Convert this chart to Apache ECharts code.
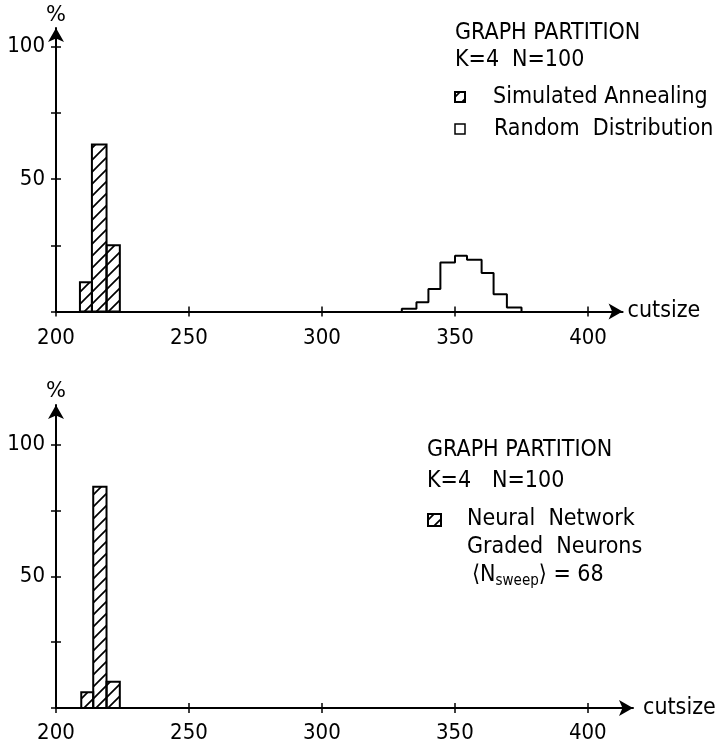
<!DOCTYPE html>
<html>
<head>
<meta charset="utf-8">
<script src="https://cdn.jsdelivr.net/npm/echarts@6/dist/echarts.min.js"></script>
<style>
	html, body { margin: 0; padding: 0; background: #fff; }
	#main { width: 717px; height: 744px; }
</style>
</head>
<body>
<div id="main"></div>
<script>
// top panel: simulated annealing bins (left edge, right edge, %)
const saStart = [209, 213.5, 219];
const saEnd = [213.5, 219, 224];
const saPct = [11, 63, 25];
// top panel: random distribution, bin edges and % per bin
const rdEdges = [330, 335.5, 340, 344.5, 350, 354.5, 360, 364.5, 369.5, 375];
const rdPct = [1, 3.5, 8.5, 18.5, 21, 19.5, 14.5, 6.5, 1.5];
// bottom panel: neural network bins
const nnStart = [209.5, 214, 219];
const nnEnd = [214, 219, 224];
const nnPct = [6, 84, 10];
// ticks
const xTicks = [200, 250, 300, 350, 400];
const yTicks = [0, 25, 50, 75, 100];
const yLabels = [50, 100];

const FONT = "'DejaVu Sans Condensed', 'Liberation Sans Narrow', 'DejaVu Sans'";

// hatch tile for the bars
function makeHatch() {
	let c = document.createElement('canvas');
	c.width = 12;
	c.height = 12;
	let ctx = c.getContext('2d');
	ctx.strokeStyle = '#000';
	ctx.lineWidth = 1.7;
	ctx.beginPath();
	ctx.moveTo(-1, 13); ctx.lineTo(13, -1);
	ctx.moveTo(-2, 2); ctx.lineTo(2, -2);
	ctx.moveTo(10, 14); ctx.lineTo(14, 10);
	ctx.stroke();
	return c;
}
const hatch = { image: makeHatch(), repeat: 'repeat' };

function binItem(params, api) {
	let p0 = api.coord([api.value(0), api.value(2)]);
	let p1 = api.coord([api.value(1), 0]);
	return {
		type: 'rect',
		shape: { x: p0[0], y: p0[1], width: p1[0] - p0[0], height: p1[1] - p0[1] },
		style: { fill: hatch, stroke: '#000', lineWidth: 2 }
	};
}

function stepPoints(edges, vals) {
	let pts = [[edges[0], 0]];
	vals.forEach(function(v, i) { pts.push([edges[i], v]); });
	pts.push([edges[edges.length - 1], 0]);
	return pts;
}

function mainX(grid, max, gap, margin) {
	return {
		type: 'value', gridIndex: grid, position: 'bottom', min: 200, max: max, interval: 50,
		name: 'cutsize', nameLocation: 'end', nameGap: gap,
		nameTextStyle: { color: '#000', fontSize: 23, fontFamily: FONT, verticalAlign: 'middle' },
		axisLine: { lineStyle: { color: '#000', width: 2 }, symbol: ['none', 'arrow'], symbolSize: [12, 14] },
		axisTick: { customValues: xTicks, length: 5, lineStyle: { color: '#000', width: 1.5 } },
		axisLabel: { customValues: xTicks, color: '#000', fontSize: 22, fontFamily: FONT, margin: margin },
		splitLine: { show: false }
	};
}
function innerX(grid, max) {
	return {
		type: 'value', gridIndex: grid, position: 'bottom', min: 200, max: max, interval: 50,
		axisLine: { show: false },
		axisTick: { inside: true, customValues: xTicks, length: 5, lineStyle: { color: '#000', width: 1.5 } },
		axisLabel: { show: false },
		splitLine: { show: false }
	};
}
function mainY(grid, max, gap) {
	return {
		type: 'value', gridIndex: grid, position: 'left', min: 0, max: max, interval: 25,
		name: '%', nameLocation: 'end', nameGap: gap,
		nameTextStyle: { color: '#000', fontSize: 21, fontFamily: 'DejaVu Sans', align: 'center' },
		axisLine: { lineStyle: { color: '#000', width: 2 }, symbol: ['none', 'arrow'], symbolSize: [12, 14] },
		axisTick: { customValues: yTicks, length: 5, lineStyle: { color: '#000', width: 1.5 } },
		axisLabel: { customValues: yLabels, color: '#000', fontSize: 22, fontFamily: FONT, margin: 11 },
		splitLine: { show: false }
	};
}
function innerY(grid, max) {
	return {
		type: 'value', gridIndex: grid, position: 'left', min: 0, max: max, interval: 25,
		axisLine: { show: false },
		axisTick: { inside: true, customValues: yTicks, length: 5, lineStyle: { color: '#000', width: 1.5 } },
		axisLabel: { show: false },
		splitLine: { show: false }
	};
}

function txt(x, y, s) {
	return { type: 'text', x: x, y: y, style: { text: s, fill: '#000', fontSize: 23, fontFamily: FONT, verticalAlign: 'middle' } };
}

let myChart = echarts.init(document.getElementById('main'));
let option = {
	backgroundColor: '#fff',
	animation: false,
	grid: [
		{ left: 56, top: 28, width: 566.6, height: 283.5 },
		{ left: 56, top: 405, width: 577, height: 305.6 }
	],
	xAxis: [mainX(0, 413, 5, 16), mainX(1, 417, 10, 14), innerX(0, 413), innerX(1, 417)],
	yAxis: [mainY(0, 107, 2), mainY(1, 115, 3), innerY(0, 107), innerY(1, 115)],
	series: [
		{
			name: 'Simulated Annealing',
			type: 'custom',
			xAxisIndex: 0,
			yAxisIndex: 0,
			renderItem: binItem,
			encode: { x: [0, 1], y: 2 },
			data: saStart.map(function(s, i) { return [s, saEnd[i], saPct[i]]; })
		},
		{
			name: 'Random Distribution',
			type: 'line',
			xAxisIndex: 0,
			yAxisIndex: 0,
			step: 'end',
			showSymbol: false,
			lineStyle: { color: '#000', width: 2 },
			data: stepPoints(rdEdges, rdPct)
		},
		{
			name: 'Neural Network',
			type: 'custom',
			xAxisIndex: 1,
			yAxisIndex: 1,
			renderItem: binItem,
			encode: { x: [0, 1], y: 2 },
			data: nnStart.map(function(s, i) { return [s, nnEnd[i], nnPct[i]]; })
		}
	],
	graphic: [
		// top legend
		txt(455, 33, 'GRAPH PARTITION'),
		txt(455, 60, 'K=4'),
		txt(512, 60, 'N=100'),
		{ type: 'rect', shape: { x: 455, y: 92, width: 10, height: 10 }, style: { fill: hatch, stroke: '#000', lineWidth: 2 } },
		txt(493, 97, 'Simulated Annealing'),
		{ type: 'rect', shape: { x: 455, y: 124, width: 10, height: 10 }, style: { fill: '#fff', stroke: '#000', lineWidth: 1.5 } },
		txt(494, 129, 'Random  Distribution'),
		// bottom legend
		txt(427, 450, 'GRAPH PARTITION'),
		txt(427, 481, 'K=4'),
		txt(492, 481, 'N=100'),
		{ type: 'rect', shape: { x: 428, y: 514, width: 13, height: 12 }, style: { fill: hatch, stroke: '#000', lineWidth: 2 } },
		txt(467, 519, 'Neural  Network'),
		txt(467, 547, 'Graded  Neurons'),
		{
			type: 'text', x: 472, y: 575,
			style: {
				text: '{a|⟨N}{s|sweep}{a|⟩ = 68}',
				fill: '#000', verticalAlign: 'middle',
				rich: {
					a: { fontSize: 23, fontFamily: FONT, color: '#000', lineHeight: 24 },
					s: { fontSize: 15, fontFamily: FONT, color: '#000', lineHeight: 24, padding: [12, 0, 0, 0] }
				}
			}
		}
	]
};
myChart.setOption(option);
</script>
</body>
</html>
